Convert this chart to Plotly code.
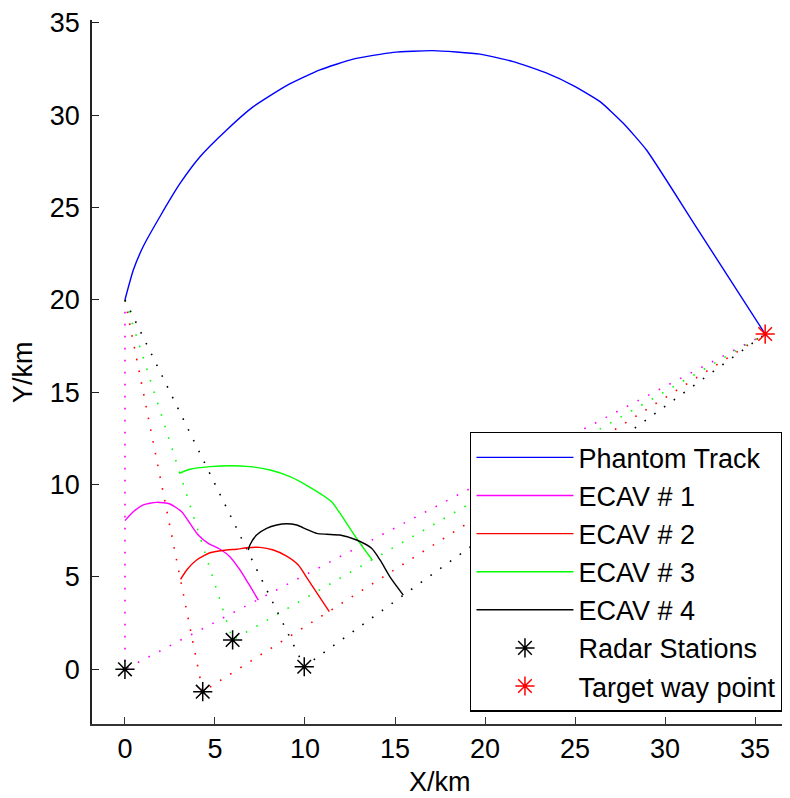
import plotly.graph_objects as go

# ---------------- data ----------------
phantom_x = [0.0, 0.46, 1.02, 1.94, 3.06, 4.17, 5.65, 7.13, 8.98, 10.83, 12.68, 14.9, 17.1,
             19.72, 21.57, 23.43, 24.9, 26.39, 27.68, 28.98, 31.76, 35.56]
phantom_y = [20.0, 21.6, 22.9, 24.5, 26.3, 27.75, 29.2, 30.46, 31.6, 32.45, 33.03, 33.4, 33.49,
             33.3, 32.9, 32.27, 31.6, 30.73, 29.56, 28.1, 23.9, 18.15]

ecav1_x = [0.0, 0.46, 1.02, 1.76, 2.5, 3.15, 3.61, 4.07, 4.63, 5.28, 5.83, 6.39, 6.85, 7.41]
ecav1_y = [8.05, 8.53, 8.9, 9.04, 8.95, 8.53, 7.9, 7.27, 6.82, 6.5, 6.1, 5.38, 4.66, 3.75]

ecav2_x = [3.09, 3.43, 3.98, 4.72, 5.65, 6.2, 6.76, 7.5, 8.24, 8.98, 9.63, 10.19, 10.74, 11.35]
ecav2_y = [4.87, 5.38, 5.92, 6.31, 6.46, 6.5, 6.58, 6.6, 6.46, 6.13, 5.65, 4.83, 4.02, 3.12]

ecav3_x = [3.02, 3.61, 4.72, 5.83, 6.94, 8.06, 9.17, 10.28, 11.48, 11.94, 12.5, 13.06, 13.74]
ecav3_y = [10.61, 10.83, 10.97, 11.02, 10.97, 10.79, 10.43, 9.85, 9.07, 8.45, 7.63, 6.82, 5.92]

ecav4_x = [6.85, 6.94, 7.31, 7.87, 8.43, 8.98, 9.54, 10.09, 10.65, 11.2, 11.94, 12.87, 13.7,
           14.17, 14.72, 15.46]
ecav4_y = [6.46, 6.73, 7.27, 7.63, 7.81, 7.88, 7.81, 7.58, 7.36, 7.31, 7.27, 7.0, 6.55,
           5.92, 5.01, 4.02]

radar_x = [0.0, 4.32, 5.98, 9.96]
radar_y = [0.0, -1.21, 1.59, 0.14]

target_x = [35.56]
target_y = [18.15]

series_names = ["ECAV # 1", "ECAV # 2", "ECAV # 3", "ECAV # 4"]
series_colors = ["#FF00FF", "#FF0000", "#00FF00", "#000000"]
tick_vals = [0, 5, 10, 15, 20, 25, 30, 35]

# ---------------- figure ----------------
fig = go.Figure()

# dotted lines of sight: phantom start -> radar -> target waypoint
for i in range(4):
    fig.add_trace(go.Scatter(
        x=[phantom_x[0], radar_x[i], target_x[0]],
        y=[phantom_y[0], radar_y[i], target_y[0]],
        mode="lines",
        line=dict(color=series_colors[i], width=1.6, dash="1.6px,10.4px"),
        showlegend=False, hoverinfo="skip"))

fig.add_trace(go.Scatter(x=phantom_x, y=phantom_y, mode="lines", name="Phantom Track",
                         line=dict(color="#0000FF", width=1.4, shape="spline", smoothing=0.5),
                         legendgroup="g0"))

ecav_x = [ecav1_x, ecav2_x, ecav3_x, ecav4_x]
ecav_y = [ecav1_y, ecav2_y, ecav3_y, ecav4_y]
for i in range(4):
    fig.add_trace(go.Scatter(x=ecav_x[i], y=ecav_y[i], mode="lines", name=series_names[i],
                             line=dict(color=series_colors[i], width=1.4, shape="spline",
                                       smoothing=0.6),
                             legendgroup="g%d" % (i + 1)))

fig.add_trace(go.Scatter(x=radar_x, y=radar_y, mode="markers", name="Radar Stations",
                         marker=dict(symbol="asterisk-open", size=16, color="black",
                                     line=dict(color="black", width=1.5)),
                         legendgroup="g5"))
fig.add_trace(go.Scatter(x=target_x, y=target_y, mode="markers", name="Target way point",
                         marker=dict(symbol="asterisk-open", size=16, color="#FF0000",
                                     line=dict(color="#FF0000", width=1.5)),
                         legendgroup="g6"))

font_family = "Liberation Sans, Arial, Helvetica, sans-serif"

fig.update_layout(
    width=790, height=798,
    margin=dict(l=84, r=8, t=12, b=82, autoexpand=False),
    paper_bgcolor="white", plot_bgcolor="white",
    font=dict(family=font_family, size=27, color="black"),
    showlegend=True,
    legend=dict(x=0.5415, y=0.415, xanchor="left", yanchor="top",
                bordercolor="black", borderwidth=1.5, bgcolor="white",
                font=dict(size=27, color="black"),
                itemwidth=97, tracegroupgap=7, traceorder="normal"),
    annotations=[
        dict(text="X/km", xref="paper", yref="paper", x=0.4986, y=-0.0824,
             xanchor="center", yanchor="middle", showarrow=False, font=dict(size=27)),
        dict(text="Y/km", xref="paper", yref="paper", x=-0.0989, y=0.5,
             xanchor="center", yanchor="middle", showarrow=False, textangle=-90,
             font=dict(size=27)),
    ],
)

fig.update_xaxes(range=[-1.83, 36.94], tickvals=tick_vals, automargin=False,
                 showgrid=False, zeroline=False, showline=True, linecolor="#333333",
                 linewidth=1.5, ticks="inside", ticklen=7, tickwidth=1.2, tickcolor="#333333",
                 ticklabelstandoff=0)
fig.update_yaxes(range=[-2.96, 35.15], tickvals=tick_vals, automargin=False,
                 showgrid=False, zeroline=False, showline=True, linecolor="#222222",
                 linewidth=1.5, ticks="inside", ticklen=7, tickwidth=1.2, tickcolor="#222222",
                 ticklabelstandoff=5)

fig.write_html("out.html")
